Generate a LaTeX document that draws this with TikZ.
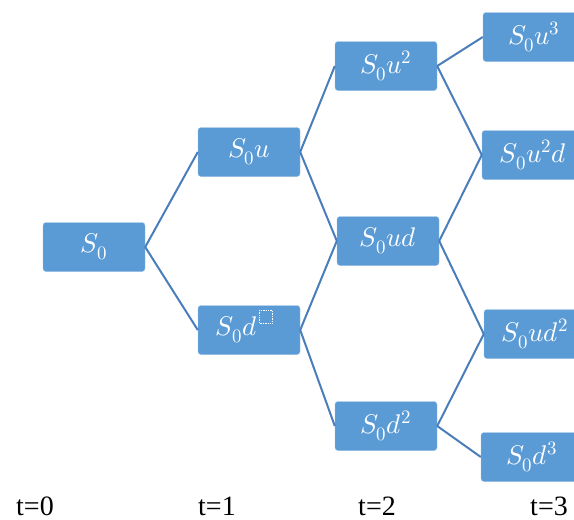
\documentclass[tikz,border=0pt]{standalone}
\usepackage{fontspec}
\usepackage{unicode-math}
\usepackage{tikz}
\usepackage{xcolor}
\usetikzlibrary{positioning}
\setmathfont{Latin Modern Math}
\newfontfamily\timesfont{Liberation Serif}

\definecolor{boxblue}{RGB}{91,155,213}
\definecolor{boxedge}{RGB}{150,190,228}
\definecolor{linkblue}{RGB}{74,126,187}

\begin{document}
\begin{tikzpicture}[
  x=1pt, y=-1pt,
  state/.style={rectangle, rounded corners=3pt, draw=boxedge, fill=boxblue,
                minimum width=102pt, minimum height=49pt, inner sep=2pt,
                text=white, font=\fontsize{27}{30}\selectfont},
  link/.style={draw=linkblue, line width=2pt},
  tlabel/.style={font=\timesfont\fontsize{28}{31}\selectfont, anchor=base},
]
\useasboundingbox (0,0) rectangle (574,520);

% t=0
\node[state] (s0)   at (94,247)  {$S_0$};
% t=1
\node[state] (s0u)  at (249,152) {$S_0u$};
\node[state] (s0d)  at (249,330) {$S_0d$\hspace*{25pt}};
% t=2
\node[state] (s0uu) at (386,66)  {$S_0u^2$};
\node[state] (s0ud) at (388,241) {$S_0ud$};
\node[state] (s0dd) at (386,426) {$S_0d^2$};
% t=3
\node[state] (s0uuu) at (534,37)  {$S_0u^3$};
\node[state] (s0uud) at (533,155) {$S_0u^2d$};
\node[state] (s0udd) at (535,334) {$S_0ud^2$};
\node[state] (s0ddd) at (532,457) {$S_0d^3$};

% empty placeholder after d
\draw[white, densely dotted, line width=0.7pt]
  ([xshift=10pt,yshift=20pt]s0d.center) rectangle ++(13,13);

\draw[link] (s0.east)   -- (s0u.west);
\draw[link] (s0.east)   -- (s0d.west);
\draw[link] (s0u.east)  -- (s0uu.west);
\draw[link] (s0u.east)  -- (s0ud.west);
\draw[link] (s0d.east)  -- (s0ud.west);
\draw[link] (s0d.east)  -- (s0dd.west);
\draw[link] (s0uu.east) -- (s0uuu.west);
\draw[link] (s0uu.east) -- (s0uud.west);
\draw[link] (s0ud.east) -- (s0uud.west);
\draw[link] (s0ud.east) -- (s0udd.west);
\draw[link] (s0dd.east) -- (s0udd.west);
\draw[link] (s0dd.east) -- (s0ddd.west);

\node[tlabel] (t0) at (35,515)  {t=0};
\node[tlabel] (t1) at (217,515) {t=1};
\node[tlabel] (t2) at (377,515) {t=2};
\node[tlabel] (t3) at (549,515) {t=3};

\end{tikzpicture}
\end{document}
